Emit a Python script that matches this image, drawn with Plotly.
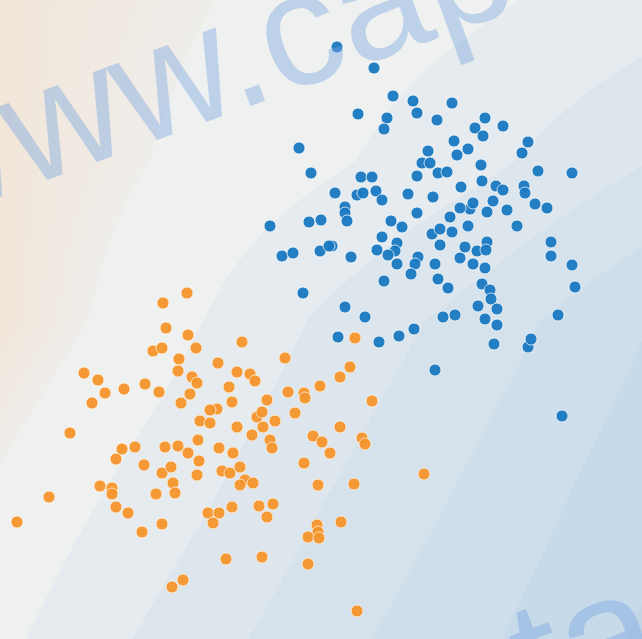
import plotly.graph_objects as go

# ---------------- data ----------------
blue_x = [337, 374, 393, 413, 417, 452, 358, 387, 384, 437, 485, 503, 475, 483, 528, 522, 454, 468, 457, 299,
          428, 422, 430, 481, 538, 572, 311, 361, 372, 417, 438, 447, 482, 496, 503, 524, 525, 461, 335, 357,
          363, 376, 382, 408, 433, 493, 535, 547, 345, 345, 347, 470, 460, 473, 487, 507, 417, 450, 270, 309,
          321, 391, 402, 468, 517, 432, 440, 452, 382, 397, 395, 377, 440, 465, 487, 477, 486, 332, 351, 397,
          418, 415, 435, 460, 473, 551, 551, 572, 575, 558, 562, 435, 282, 293, 320, 329, 303, 384, 345, 365,
          338, 379, 399, 414, 411, 438, 448, 482, 490, 491, 478, 497, 485, 497, 455, 443, 494, 528, 531, 485,
          388]
blue_y = [47, 68, 96, 101, 113, 103, 114, 118, 129, 120, 118, 126, 128, 136, 142, 153, 141, 149, 155, 148,
          151, 163, 163, 165, 171, 173, 173, 177, 177, 176, 173, 172, 181, 186, 190, 186, 193, 187, 193, 195,
          193, 191, 200, 194, 197, 201, 204, 208, 207, 213, 221, 209, 208, 203, 212, 210, 213, 217, 226, 222,
          220, 221, 227, 226, 226, 234, 229, 232, 237, 243, 251, 250, 245, 247, 242, 251, 250, 246, 257, 264,
          257, 264, 264, 258, 264, 242, 256, 265, 287, 315, 416, 370, 256, 253, 251, 246, 293, 281, 307, 317,
          337, 342, 336, 329, 274, 279, 288, 284, 290, 299, 306, 309, 319, 325, 315, 317, 344, 347, 339, 268,
          255]

orange_x = [187, 163, 166, 188, 196, 153, 162, 218, 179, 178, 192, 197, 190, 181, 229, 84, 98, 105, 92, 124,
            145, 159, 70, 200, 210, 217, 210, 198, 219, 122, 135, 165, 178, 242, 285, 355, 237, 250, 255, 350,
            340, 320, 232, 267, 288, 304, 305, 372, 295, 257, 262, 275, 237, 263, 252, 270, 272, 340, 313, 322,
            330, 362, 365, 233, 188, 304, 116, 144, 197, 162, 171, 173, 175, 156, 100, 112, 112, 49, 17, 116,
            128, 142, 162, 183, 172, 199, 222, 230, 240, 245, 253, 240, 318, 354, 424, 208, 219, 213, 232, 259,
            273, 267, 317, 318, 308, 319, 341, 226, 262, 308, 357]
orange_y = [293, 303, 328, 335, 348, 351, 348, 363, 359, 371, 377, 383, 394, 403, 387, 373, 380, 393, 403, 389,
            384, 392, 433, 421, 423, 409, 410, 440, 448, 449, 447, 447, 446, 342, 358, 338, 372, 374, 381, 367,
            377, 386, 402, 400, 392, 393, 398, 401, 413, 417, 412, 421, 427, 427, 435, 440, 448, 427, 436, 442,
            453, 438, 444, 453, 453, 463, 459, 465, 475, 473, 467, 483, 493, 494, 486, 488, 494, 497, 522, 507,
            513, 532, 524, 580, 587, 461, 471, 473, 467, 480, 483, 485, 485, 484, 474, 513, 513, 523, 507, 506,
            504, 517, 525, 532, 537, 538, 522, 559, 557, 564, 611]

# background decision surface: band level read at a coarse grid
grid_x = [0, 160, 320, 480, 642]
grid_y = [0, 160, 320, 480, 639]
grid_level = [
    [0.31, 0.82, 1.34, 1.85, 2.50],
    [0.30, 1.05, 1.79, 2.74, 3.94],
    [0.28, 1.59, 3.13, 4.46, 5.92],
    [1.08, 2.42, 3.87, 5.19, 6.57],
    [1.76, 3.26, 4.61, 5.83, 7.13],
]

peach_colors = ["rgb(244,226,207)", "rgb(242,230,217)", "rgb(239,237,234)"]
band_colors = [
    "rgb(239,241,240)",
    "rgb(229,235,238)",
    "rgb(221,230,236)",
    "rgb(213,226,235)",
    "rgb(206,222,234)",
    "rgb(199,218,233)",
    "rgb(192,214,231)",
]

zmax = 8.0
cs = [[0.0, peach_colors[0]], [0.3 / zmax, peach_colors[1]], [0.999 / zmax, peach_colors[2]]]
for i, col in enumerate(band_colors):
    lo = (i + 1) / zmax
    hi = (i + 2) / zmax - 1e-4 if i < len(band_colors) - 1 else 1.0
    cs.append([lo, col])
    cs.append([hi, col])

fig = go.Figure()
fig.add_trace(go.Heatmap(
    x=grid_x, y=grid_y, z=grid_level, zsmooth="best",
    colorscale=cs, zmin=0, zmax=zmax, showscale=False, hoverinfo="skip",
))

fig.add_trace(go.Scatter(
    x=blue_x, y=blue_y, mode="markers",
    marker=dict(size=12, color="#1a79c1", opacity=0.95,
                line=dict(color="rgba(255,255,255,0.75)", width=1)),
    hoverinfo="skip",
))
fig.add_trace(go.Scatter(
    x=orange_x, y=orange_y, mode="markers",
    marker=dict(size=12, color="#f5952c", opacity=0.95,
                line=dict(color="rgba(255,240,220,0.85)", width=1)),
    hoverinfo="skip",
))

wm_color = "rgba(120,165,225,0.42)"
fig.add_annotation(x=199, y=64, xref="x", yref="y", text="www.cap", showarrow=False,
                   textangle=-20, font=dict(family="Liberation Sans", size=162, color=wm_color),
                   xanchor="center", yanchor="middle")
fig.add_annotation(x=584, y=630, xref="x", yref="y", yshift=-12, text="ta", showarrow=False,
                   textangle=-20, font=dict(family="Liberation Sans", size=170, color=wm_color),
                   xanchor="center", yanchor="middle")

fig.update_xaxes(range=[0, 642], visible=False, fixedrange=True)
fig.update_yaxes(range=[639, 0], visible=False, fixedrange=True)
fig.update_layout(
    width=642, height=639, margin=dict(l=0, r=0, t=0, b=0),
    showlegend=False, paper_bgcolor="rgb(238,240,239)", plot_bgcolor="rgb(238,240,239)",
)
fig.write_html("out.html", config={"displayModeBar": False})
